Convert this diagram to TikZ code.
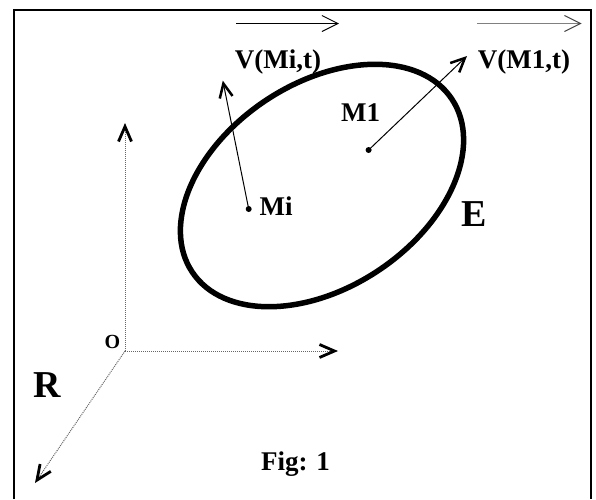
\documentclass[tikz,border=0pt]{standalone}
\usepackage{fontspec}
\setmainfont{Liberation Serif}
\usetikzlibrary{arrows.meta}
\begin{document}
\begin{tikzpicture}[x=1pt,y=-1pt,
  vec/.style={line width=1pt, -{Straight Barb[length=14pt,width=13pt,line width=2.5pt]}},
  axisline/.style={gray!80!black, line width=1pt, densely dotted, -{Straight Barb[length=15pt,width=13pt,line width=2.8pt,color=black]}},
  overarrow/.style={line width=1pt, -{Straight Barb[length=16pt,width=16pt,line width=1pt]}},
  lab/.style={font=\fontsize{27}{30}\selectfont\bfseries, anchor=base, inner sep=0pt},
  biglab/.style={font=\fontsize{38}{42}\selectfont\bfseries, anchor=base, inner sep=0pt},
  dot/.style={circle, fill=black, inner sep=0pt, minimum size=6pt},
]
\useasboundingbox (0,0) rectangle (596,499);
% frame
\draw[line width=2.5pt] (14,499) -- (14,10) -- (591,10) -- (591,499);
% ellipse E
\draw[line width=5.5pt, rotate around={33.7:(322,185.5)}] (322,185.5) ellipse [x radius=156, y radius=102];
% axes
\coordinate (O) at (125,351);
\coordinate (Zend) at (125,123);
\coordinate (Xend) at (338,351);
\coordinate (Yend) at (35,483);
\draw[axisline] (O) -- (Zend);
\draw[axisline] (O) -- (Xend);
\draw[axisline] (O) -- (Yend);
% points
\node[dot] (M1) at (368.6,150) {};
\node[dot] (Mi) at (248.7,209) {};
\coordinate (M1tip) at (467,56);
\coordinate (Mitip) at (222.8,80.6);
\draw[vec] (M1.center) -- (M1tip);
\draw[vec] (Mi.center) -- (Mitip);
% over arrows
\coordinate (A1s) at (236,23.5);
\coordinate (A1e) at (339,23.5);
\coordinate (A2s) at (477,23.5);
\coordinate (A2e) at (581.5,23.5);
\draw[overarrow] (A1s) -- (A1e);
\draw[overarrow, gray, -{Straight Barb[length=16pt,width=16pt,line width=1pt,color=black!75]}] (A2s) -- (A2e);
% labels
\node[lab] (lVMi) at (278,68.4) {V(Mi,t)};
\node[lab] (lVM1) at (524,68.5) {V(M1,t)};
\node[lab] (lM1) at (360.5,121) {M1};
\node[lab] (lMi) at (276,215) {Mi};
\node[biglab] (lE) at (474,226.7) {E};
\node[biglab] (lR) at (47.7,397) {R};
\node[font=\fontsize{20}{22}\selectfont\bfseries, anchor=base, inner sep=0pt] (lO) at (112.5,348) {O};
\node[lab] (lFig) at (295.5,470.5) {Fig: 1};
\end{tikzpicture}
\end{document}
